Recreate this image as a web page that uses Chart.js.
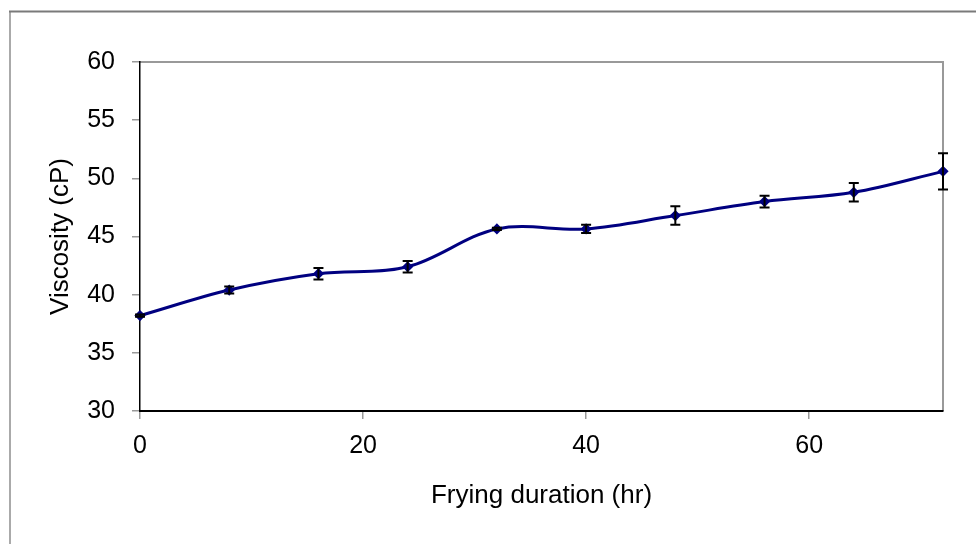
<!DOCTYPE html>
<html>
<head>
<meta charset="utf-8">
<script src="https://cdn.jsdelivr.net/npm/chart.js@4"></script>
<style>
  body { margin: 0; background: #fff; }
  canvas { display: block; }
</style>
</head>
<body>
<canvas id="viscosityChart" width="976" height="544"></canvas>
<script>
// Du lieu doc tu hinh goc
const hours = [0, 8, 16, 24, 32, 40, 48, 56, 64, 72];
const viscosity = [38.2, 40.4, 41.8, 42.4, 45.65, 45.65, 46.8, 48.0, 48.8, 50.6];
const viscosityErr = [0.1, 0.3, 0.5, 0.5, 0.1, 0.35, 0.8, 0.5, 0.8, 1.55];
const xTicks = [0, 20, 40, 60];
const yTicks = [30, 35, 40, 45, 50, 55, 60];

const points = hours.map(function(h, i) {
    return { x: h, y: viscosity[i] };
});

// Khung ngoai va vien vung ve
const framePlugin = {
    id: 'frame',
    beforeDraw: function(chart) {
        const ctx = chart.ctx;
        const area = chart.chartArea;
        ctx.save();
        ctx.lineWidth = 2;
        ctx.strokeStyle = '#aaaaaa';
        ctx.beginPath();
        ctx.moveTo(10, 11);
        ctx.lineTo(10, chart.height);
        ctx.stroke();
        ctx.strokeStyle = '#7a7a7a';
        ctx.beginPath();
        ctx.moveTo(9, 11.5);
        ctx.lineTo(chart.width, 11.5);
        ctx.stroke();
        ctx.strokeStyle = '#999999';
        ctx.lineWidth = 2;
        ctx.beginPath();
        ctx.moveTo(area.left, area.top);
        ctx.lineTo(area.right, area.top);
        ctx.lineTo(area.right, area.bottom);
        ctx.stroke();
        ctx.restore();
    }
};

// Ve thanh sai so
const errorBarPlugin = {
    id: 'errorBars',
    afterDatasetsDraw: function(chart) {
        const ctx = chart.ctx;
        const yScale = chart.scales.y;
        const meta = chart.getDatasetMeta(0);
        ctx.save();
        ctx.strokeStyle = '#000';
        ctx.lineWidth = 2;
        meta.data.forEach(function(pt, i) {
            const top = yScale.getPixelForValue(viscosity[i] + viscosityErr[i]);
            const bottom = yScale.getPixelForValue(viscosity[i] - viscosityErr[i]);
            ctx.beginPath();
            ctx.moveTo(pt.x, top);
            ctx.lineTo(pt.x, bottom);
            ctx.moveTo(pt.x - 5, top);
            ctx.lineTo(pt.x + 5, top);
            ctx.moveTo(pt.x - 5, bottom);
            ctx.lineTo(pt.x + 5, bottom);
            ctx.stroke();
        });
        ctx.restore();
    }
};

Chart.defaults.font.family = 'Arial, "Liberation Sans", sans-serif';
Chart.defaults.color = '#000';

new Chart(document.getElementById('viscosityChart'), {
    type: 'line',
    data: {
        datasets: [{
            data: points,
            borderColor: '#000080',
            backgroundColor: '#000080',
            borderWidth: 3,
            tension: 0.35,
            pointStyle: 'rectRot',
            pointRadius: 3.5,
            pointHoverRadius: 3.5,
            clip: false
        }]
    },
    options: {
        responsive: false,
        animation: false,
        events: [],
        layout: {
            padding: { top: 62, right: 33, left: 0, bottom: 0 }
        },
        plugins: {
            legend: { display: false },
            tooltip: { enabled: false }
        },
        scales: {
            x: {
                type: 'linear',
                min: 0,
                max: 72,
                afterBuildTicks: function(scale) {
                    scale.ticks = xTicks.map(function(v) { return { value: v }; });
                },
                afterFit: function(scale) { scale.height = 133; },
                grid: { drawOnChartArea: false, tickLength: 8, color: '#999', lineWidth: 1.5 },
                border: { color: '#000', width: 2 },
                ticks: { font: { size: 25 }, padding: 12, maxRotation: 0 },
                title: {
                    display: true,
                    text: 'Frying duration (hr)',
                    font: { size: 26 },
                    padding: { top: 0, bottom: 33 }
                }
            },
            y: {
                min: 30,
                max: 60,
                afterBuildTicks: function(scale) {
                    scale.ticks = yTicks.map(function(v) { return { value: v }; });
                },
                afterFit: function(scale) { scale.width = 140; },
                grid: { drawOnChartArea: false, tickLength: 8, color: '#999', lineWidth: 1.5 },
                border: { color: '#000', width: 1.5 },
                ticks: { font: { size: 25 }, padding: 17 },
                title: {
                    display: true,
                    text: 'Viscosity (cP)',
                    font: { size: 26 },
                    padding: { top: 45, bottom: 0 }
                }
            }
        }
    },
    plugins: [framePlugin, errorBarPlugin]
});
</script>
</body>
</html>
